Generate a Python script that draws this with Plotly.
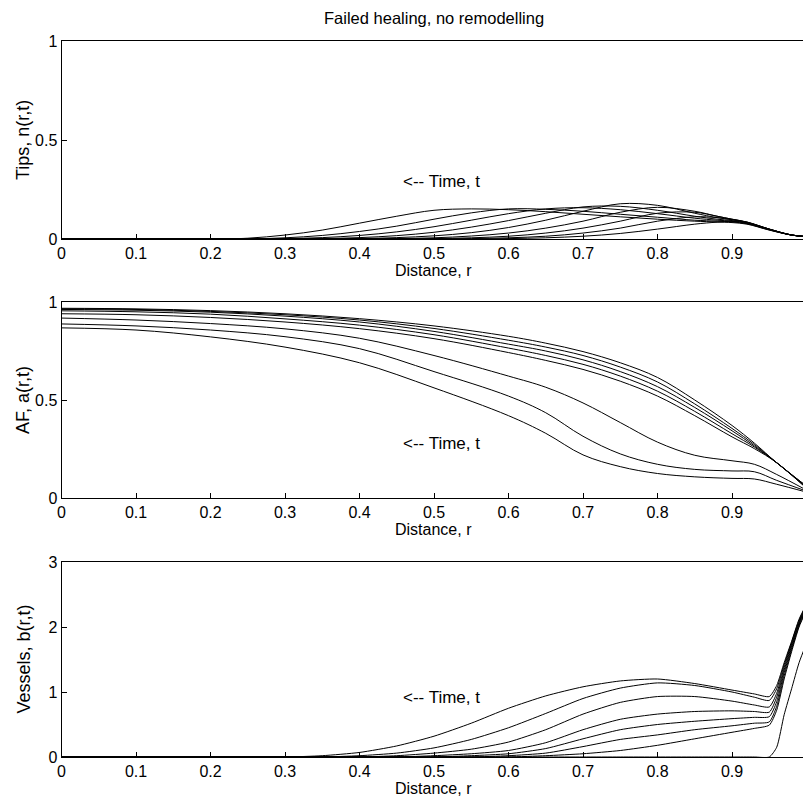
import plotly.graph_objects as go

# ---------------- data ----------------
r_tips = [0, 0.1, 0.2, 0.25, 0.3, 0.35, 0.4, 0.45, 0.5, 0.55, 0.6, 0.65, 0.7,
          0.75, 0.8, 0.85, 0.88, 0.9, 0.92, 0.95, 0.98, 1.0]
tips_t1 = [0, 0, 0, 0.004, 0.02, 0.045, 0.08, 0.115, 0.145, 0.152, 0.148, 0.138, 0.125,
           0.112, 0.1, 0.09, 0.086, 0.083, 0.075, 0.045, 0.02, 0.012]
tips_t2 = [0, 0, 0, 0, 0.006, 0.018, 0.038, 0.065, 0.1, 0.132, 0.152, 0.15, 0.14,
           0.125, 0.11, 0.095, 0.09, 0.086, 0.077, 0.046, 0.02, 0.012]
tips_t3 = [0, 0, 0, 0, 0.002, 0.007, 0.018, 0.036, 0.062, 0.095, 0.128, 0.152, 0.158,
           0.148, 0.128, 0.105, 0.095, 0.09, 0.079, 0.047, 0.02, 0.012]
tips_t4 = [0, 0, 0, 0, 0, 0.002, 0.007, 0.017, 0.034, 0.06, 0.093, 0.13, 0.162,
           0.165, 0.145, 0.115, 0.1, 0.093, 0.081, 0.048, 0.02, 0.012]
tips_t5 = [0, 0, 0, 0, 0, 0, 0.002, 0.007, 0.016, 0.032, 0.058, 0.095, 0.14,
           0.178, 0.17, 0.13, 0.108, 0.097, 0.083, 0.049, 0.02, 0.012]
tips_t6 = [0, 0, 0, 0, 0, 0, 0, 0.002, 0.006, 0.015, 0.03, 0.055, 0.09,
           0.135, 0.16, 0.14, 0.115, 0.1, 0.085, 0.05, 0.02, 0.012]
tips_t7 = [0, 0, 0, 0, 0, 0, 0, 0, 0.002, 0.006, 0.014, 0.03, 0.055,
           0.09, 0.13, 0.135, 0.115, 0.1, 0.086, 0.05, 0.02, 0.012]
tips_t8 = [0, 0, 0, 0, 0, 0, 0, 0, 0, 0.002, 0.006, 0.014, 0.03,
           0.055, 0.09, 0.112, 0.108, 0.098, 0.085, 0.05, 0.02, 0.012]
tips_t9 = [0, 0, 0, 0, 0, 0, 0, 0, 0, 0, 0.002, 0.006, 0.014,
           0.028, 0.05, 0.075, 0.085, 0.088, 0.082, 0.05, 0.02, 0.012]

r_af = [0, 0.1, 0.2, 0.3, 0.4, 0.5, 0.6, 0.65, 0.7, 0.75, 0.8, 0.85, 0.9, 0.93, 0.96, 1.0]
af_u1 = [0.968, 0.965, 0.956, 0.94, 0.915, 0.878, 0.825, 0.79, 0.747, 0.69, 0.615, 0.5, 0.37, 0.28, 0.18, 0.06]
af_u2 = [0.965, 0.962, 0.952, 0.935, 0.908, 0.865, 0.805, 0.77, 0.727, 0.668, 0.592, 0.48, 0.355, 0.273, 0.18, 0.06]
af_u3 = [0.962, 0.958, 0.948, 0.928, 0.898, 0.85, 0.785, 0.75, 0.705, 0.645, 0.568, 0.462, 0.343, 0.266, 0.18, 0.055]
af_u4 = [0.955, 0.95, 0.938, 0.914, 0.882, 0.833, 0.765, 0.727, 0.682, 0.622, 0.545, 0.442, 0.328, 0.26, 0.18, 0.05]
af_u5 = [0.94, 0.935, 0.921, 0.898, 0.864, 0.813, 0.742, 0.702, 0.656, 0.596, 0.52, 0.42, 0.312, 0.252, 0.18, 0.05]
af_c = [0.918, 0.908, 0.89, 0.863, 0.815, 0.727, 0.622, 0.565, 0.485, 0.385, 0.285, 0.218, 0.19, 0.172, 0.12, 0.04]
af_b = [0.888, 0.878, 0.857, 0.823, 0.762, 0.645, 0.52, 0.435, 0.315, 0.225, 0.172, 0.146, 0.138, 0.134, 0.09, 0.035]
af_a = [0.868, 0.857, 0.822, 0.77, 0.69, 0.562, 0.42, 0.33, 0.22, 0.16, 0.125, 0.108, 0.1, 0.097, 0.07, 0.03]

r_ves = [0, 0.3, 0.35, 0.4, 0.45, 0.5, 0.55, 0.6, 0.65, 0.7, 0.75, 0.8, 0.85,
         0.9, 0.93, 0.95, 0.96, 0.97, 0.98, 0.99, 1.0]
ves_v1 = [0, 0, 0.02, 0.07, 0.17, 0.32, 0.52, 0.75, 0.94, 1.08, 1.17, 1.2, 1.13,
          1.03, 0.97, 0.93, 1.1, 1.45, 1.78, 2.12, 2.35]
ves_v2 = [0, 0, 0, 0.02, 0.06, 0.14, 0.27, 0.45, 0.67, 0.9, 1.06, 1.14, 1.1,
          1.0, 0.92, 0.87, 1.05, 1.42, 1.76, 2.1, 2.35]
ves_v3 = [0, 0, 0, 0, 0.02, 0.06, 0.12, 0.23, 0.42, 0.66, 0.84, 0.93, 0.93,
          0.86, 0.8, 0.77, 0.98, 1.38, 1.74, 2.08, 2.33]
ves_v4 = [0, 0, 0, 0, 0, 0.02, 0.05, 0.1, 0.22, 0.42, 0.58, 0.66, 0.7,
          0.71, 0.7, 0.69, 0.92, 1.34, 1.71, 2.06, 2.32]
ves_v5 = [0, 0, 0, 0, 0, 0, 0.02, 0.05, 0.13, 0.28, 0.42, 0.5, 0.55,
          0.59, 0.61, 0.62, 0.85, 1.3, 1.68, 2.04, 2.3]
ves_v6 = [0, 0, 0, 0, 0, 0, 0, 0.02, 0.06, 0.16, 0.27, 0.34, 0.42,
          0.48, 0.52, 0.54, 0.78, 1.25, 1.65, 2.02, 2.28]
ves_v7 = [0, 0, 0, 0, 0, 0, 0, 0, 0.02, 0.05, 0.1, 0.18, 0.28,
          0.38, 0.44, 0.49, 0.72, 1.2, 1.62, 2.0, 2.26]
ves_v8 = [0, 0, 0, 0, 0, 0, 0, 0, 0, 0, 0, 0, 0,
          0, 0, 0, 0.15, 0.65, 1.05, 1.45, 1.75]

x_ticks = [0, 0.1, 0.2, 0.3, 0.4, 0.5, 0.6, 0.7, 0.8, 0.9]
x_tick_text = ["0", "0.1", "0.2", "0.3", "0.4", "0.5", "0.6", "0.7", "0.8", "0.9"]
y1_ticks = [0, 0.5, 1]
y1_tick_text = ["0", "0.5", "1"]
y2_ticks = [0, 0.5, 1]
y2_tick_text = ["0", "0.5", "1"]
y3_ticks = [0, 1, 2, 3]
y3_tick_text = ["0", "1", "2", "3"]

title_text = "Failed healing, no remodelling"
x_title = "Distance, r"
y_titles = ["Tips, n(r,t)", "AF, a(r,t)", "Vessels, b(r,t)"]
time_label = "&lt;-- Time, t"

# ---------------- figure ----------------
W, H = 803, 807
FONT = "Liberation Sans, Arial, Helvetica, sans-serif"
smooth = [1.0, 1.0, 0.6]

fig = go.Figure()
panels = [
    ("x", "y", r_tips, [tips_t1, tips_t2, tips_t3, tips_t4, tips_t5, tips_t6, tips_t7, tips_t8, tips_t9]),
    ("x2", "y2", r_af, [af_u1, af_u2, af_u3, af_u4, af_u5, af_c, af_b, af_a]),
    ("x3", "y3", r_ves, [ves_v1, ves_v2, ves_v3, ves_v4, ves_v5, ves_v6, ves_v7, ves_v8]),
]
for k, (xa, ya, rr, curves) in enumerate(panels):
    for c in curves:
        fig.add_trace(go.Scatter(x=rr, y=c, xaxis=xa, yaxis=ya, mode="lines",
                                 line=dict(color="black", width=1, shape="spline",
                                           smoothing=smooth[k]),
                                 showlegend=False, hoverinfo="skip"))

# pixel layout (top, bottom of each plot area)
x_left_px = 61.5
x_right_px = 803
x_zero_to_one_px = 745.0
xmax = (x_right_px - x_left_px) / x_zero_to_one_px
panel_px = [(41, 239), (302, 498), (562, 757)]
yranges = [[0, 1], [0, 1], [0, 3]]
ytickv = [(y1_ticks, y1_tick_text), (y2_ticks, y2_tick_text), (y3_ticks, y3_tick_text)]

axis_common = dict(showline=True, linecolor="black", linewidth=1, mirror=True,
                   ticks="inside", ticklen=5, tickwidth=1, tickcolor="black",
                   showgrid=False, zeroline=False, automargin=False,
                   tickfont=dict(family=FONT, size=16, color="black"))

layout = dict(width=W, height=H, margin=dict(l=0, r=0, t=0, b=0, pad=0),
              template="none",
              paper_bgcolor="white", plot_bgcolor="white", showlegend=False)
annotations = []
for i, (top, bot) in enumerate(panel_px):
    sfx = "" if i == 0 else str(i + 1)
    dom = [1 - bot / H, 1 - top / H]
    layout["xaxis" + sfx] = dict(axis_common, domain=[x_left_px / W, 1.0], range=[0, xmax],
                                 tickvals=x_ticks, ticktext=x_tick_text,
                                 anchor="y" + sfx)
    layout["yaxis" + sfx] = dict(axis_common, domain=dom, range=yranges[i],
                                 tickvals=ytickv[i][0], ticktext=ytickv[i][1],
                                 anchor="x" + sfx)
    annotations.append(dict(text=x_title, xref="paper", yref="paper",
                            x=(x_left_px + 806) / 2 / W, y=1 - (bot + 31) / H,
                            xanchor="center", yanchor="middle", showarrow=False,
                            font=dict(family=FONT, size=16, color="black")))
    annotations.append(dict(text=y_titles[i], xref="paper", yref="paper",
                            x=23 / W, y=1 - ((top + bot) / 2) / H, textangle=-90,
                            xanchor="center", yanchor="middle", showarrow=False,
                            font=dict(family=FONT, size=18, color="black")))

time_pos = [("x", "y", 0.51, 0.29), ("x2", "y2", 0.51, 0.28), ("x3", "y3", 0.51, 0.91)]
for xa, ya, tx, ty in time_pos:
    annotations.append(dict(text=time_label, xref=xa, yref=ya, x=tx, y=ty,
                            xanchor="center", yanchor="middle", showarrow=False,
                            font=dict(family=FONT, size=17, color="black")))

annotations.append(dict(text=title_text, xref="paper", yref="paper",
                        x=(x_left_px + 806) / 2 / W, y=1 - 18 / H,
                        xanchor="center", yanchor="middle", showarrow=False,
                        font=dict(family=FONT, size=16.5, color="black")))
layout["annotations"] = annotations
fig.update_layout(**layout)

fig.write_html("out.html", config={"displayModeBar": False},
               post_script="document.body.style.margin='0px';document.body.style.overflow='hidden';")
